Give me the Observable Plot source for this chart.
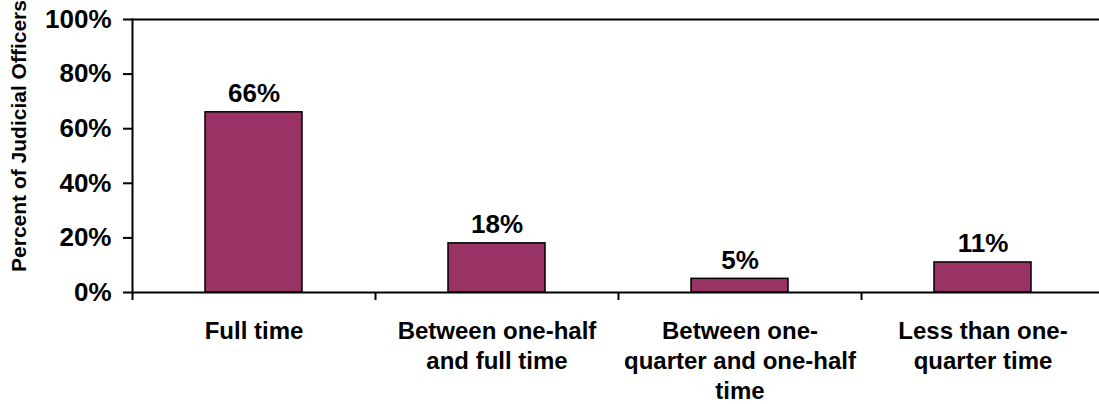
<!DOCTYPE html>
<html>
<head>
<meta charset="utf-8">
<script src="https://cdn.jsdelivr.net/npm/d3@7"></script>
<script src="https://cdn.jsdelivr.net/npm/@observablehq/plot@0.6"></script>
<style>
  html, body { margin: 0; padding: 0; background: #fff; }
  #chart svg { display: block; }
</style>
</head>
<body>
<div id="chart"></div>
<script>
const categories = [
  "Full time",
  "Between one-half and full time",
  "Between one-quarter and one-half time",
  "Less than one-quarter time"
];
const tickLabels = [
  "Full time",
  "Between one-half\nand full time",
  "Between one-\nquarter and one-half\ntime",
  "Less than one-\nquarter time"
];
const values = [66, 18, 5, 11];
const yTicks = [0, 20, 40, 60, 80, 100];
const yLabel = "Percent of Judicial Officers";

const data = categories.map((c, i) => ({category: c, value: values[i], label: tickLabels[i]}));
const labelOf = new Map(data.map(d => [d.category, d.label]));

const xRange = [132, 1104];
const padInner = 0.6, padOuter = 0.3;
const step = (xRange[1] - xRange[0]) / (categories.length - padInner + 2 * padOuter);

const chart = Plot.plot({
  width: 1099,
  height: 404,
  marginLeft: 132,
  marginRight: 0,
  marginTop: 19,
  marginBottom: 112,
  style: {fontFamily: "'Liberation Sans', Arial, sans-serif", fontWeight: "bold", color: "#000", background: "#fff"},
  x: {type: "band", domain: categories, range: xRange, paddingInner: padInner, paddingOuter: padOuter},
  y: {domain: [0, 100]},
  marks: [
    Plot.barY(data, {x: "category", y: "value", fill: "#993366", stroke: "#000", strokeWidth: 1.5}),
    Plot.ruleY([100], {stroke: "#000", strokeWidth: 2}),
    Plot.ruleY([0], {stroke: "#000", strokeWidth: 2}),
    Plot.frame({anchor: "left", stroke: "#000", strokeWidth: 2}),
    Plot.ruleX(categories, {x: d => d, y1: 0, y2: 0, dx: -step / 2, insetBottom: -8, stroke: "#000", strokeWidth: 2}),
    Plot.axisY({ticks: yTicks, tickFormat: d => d + "%", tickSize: 9, tickPadding: 12, fontSize: 26, fontWeight: "bold", label: null, strokeWidth: 2}),
    Plot.axisX({tickSize: 0, tickPadding: 25, tickFormat: d => labelOf.get(d), fontSize: 24, fontWeight: "bold", lineHeight: 1.25, label: null}),
    Plot.text(data, {x: "category", y: "value", text: d => d.value + "%", dy: -10, lineAnchor: "bottom", fontSize: 26, fontWeight: "bold"}),
    Plot.text([yLabel], {frameAnchor: "left", textAnchor: "middle", rotate: -90, dx: -113, dy: -20, fontSize: 21, fontWeight: "bold"})
  ]
});
document.getElementById("chart").appendChild(chart);
</script>
</body>
</html>
